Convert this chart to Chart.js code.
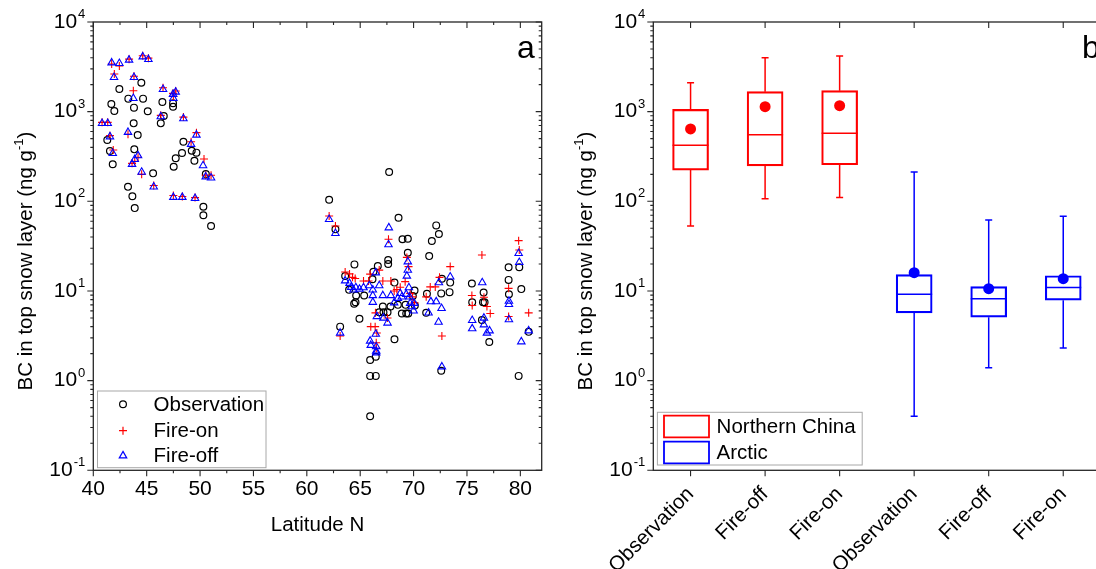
<!DOCTYPE html>
<html>
<head>
<meta charset="utf-8">
<script src="https://cdn.jsdelivr.net/npm/chart.js@4.4.1/dist/chart.umd.min.js"></script>
<style>
  html, body { margin: 0; padding: 0; background: #fff; overflow: hidden; }
  #wrap { position: relative; width: 1096px; height: 569px; overflow: hidden; }
  canvas { position: absolute; top: 0; }
  #chart-a { left: 0; }
  #chart-b { left: 560px; }
</style>
</head>
<body>
<div id="wrap">
  <canvas id="chart-a" width="560" height="569" style="width:560px;height:569px"></canvas>
  <canvas id="chart-b" width="560" height="569" style="width:560px;height:569px"></canvas>
</div>
<script>
// ---- panel a: [latitude N, BC ng/g] ----
const observation = [
  [41.69, 1217], [41.97, 1017], [42.44, 1790], [41.31, 483], [41.56, 364], [41.82, 259],
  [43.28, 1396], [43.81, 1109], [43.78, 741], [44.16, 549], [43.84, 380], [43.25, 145],
  [43.66, 114], [43.88, 84], [44.5, 2104], [44.66, 1396], [45.1, 1009], [45.6, 205],
  [46.47, 1282], [46.6, 895], [46.32, 741], [47.47, 1240], [47.47, 1136], [47.53, 243],
  [47.72, 302], [48.31, 346], [48.44, 462], [49.22, 367], [49.47, 284], [49.66, 349],
  [50.54, 202], [50.31, 87], [50.31, 70], [51.03, 53],
  [62.09, 104], [62.68, 48.7], [63.12, 4.0], [63.59, 14.7], [63.96, 10.3], [64.46, 19.8],
  [64.43, 7.2], [64.56, 7.5], [64.62, 8.9], [64.93, 4.9], [65.37, 8.9], [66.24, 16.4],
  [66.15, 13.5], [65.93, 1.7], [65.93, 1.13], [66.46, 1.13], [66.46, 1.85], [65.93, 0.4],
  [66.65, 19.0], [66.78, 5.8], [67.12, 6.7], [67.18, 5.8], [67.56, 5.8], [67.62, 22.2],
  [67.62, 20.0], [67.71, 212], [67.84, 6.7], [68.21, 12.4], [68.21, 2.9], [68.59, 65.7],
  [68.53, 7.0], [68.96, 37.7], [69.46, 38.3], [69.46, 26.7], [69.31, 5.6], [69.5, 5.6],
  [68.9, 5.6], [69.25, 7.0], [70.09, 10.1], [69.93, 8.8], [70.12, 6.9], [71.46, 24.5],
  [71.71, 36.1], [72.12, 53.9], [72.37, 43.2], [71.25, 9.3], [71.18, 5.7], [72.65, 13.7],
  [72.59, 9.4], [72.59, 1.29], [73.43, 12.4], [73.37, 9.7], [75.46, 12.1], [75.49, 7.5],
  [76.4, 4.75], [76.56, 9.6], [76.5, 7.5], [76.65, 7.5], [77.09, 2.7], [78.9, 18.4],
  [78.9, 13.3], [78.93, 9.2], [79.9, 18.4], [80.09, 10.5], [79.84, 1.13], [80.78, 3.5]
];

const fireOn = [
  [40.82, 760], [41.35, 760], [41.56, 540], [41.87, 374], [41.72, 3400], [42.44, 3230],
  [41.97, 2630], [43.35, 3850], [43.81, 2480], [43.75, 1714], [43.25, 560], [43.63, 265],
  [43.88, 280], [44.19, 310], [44.53, 200], [44.63, 4200], [45.16, 3950], [45.66, 150],
  [46.32, 910], [46.53, 1850], [47.5, 1480], [47.47, 1600], [47.72, 1700], [47.5, 116],
  [48.34, 113], [49.53, 110], [48.44, 870], [49.16, 462], [49.66, 583], [50.37, 297],
  [50.53, 195], [51.03, 195],
  [62.09, 68.6], [62.68, 53], [63.12, 3.15], [63.59, 16.3], [64.0, 15.5], [64.28, 14.2],
  [64.53, 13.8], [65.31, 12.9], [65.78, 12.9], [65.93, 15.4], [65.99, 4.0], [66.4, 4.0],
  [66.56, 3.4], [66.5, 2.65], [66.5, 2.3], [66.78, 17.1], [66.43, 5.7], [67.12, 12.9],
  [67.56, 5.0], [67.65, 37.7], [67.87, 12.9], [68.18, 10.0], [68.43, 10.4], [68.75, 11.0],
  [69.21, 12.7], [69.37, 23.7], [69.53, 18.7], [69.68, 9.4], [69.9, 8.6], [70.09, 7.4],
  [71.18, 8.6], [71.56, 11.1], [72.03, 11.1], [72.43, 14.2], [72.65, 3.15], [73.43, 18.7],
  [75.46, 8.9], [75.49, 6.9], [76.4, 25.2], [76.59, 8.5], [76.87, 6.7], [77.18, 5.6],
  [78.9, 10.7], [78.9, 5.2], [79.84, 36.4], [79.9, 28.7], [80.78, 5.7]
];

const fireOff = [
  [40.82, 741], [41.35, 741], [41.56, 526], [41.82, 343], [41.72, 3516], [42.44, 3460],
  [41.94, 2415], [43.35, 3770], [43.81, 2415], [43.75, 1409], [43.25, 589], [43.63, 259],
  [43.88, 294], [44.19, 323], [44.53, 212], [44.63, 4100], [45.16, 3837], [45.66, 145],
  [46.32, 880], [46.53, 1775], [47.5, 1409], [47.47, 1563], [47.72, 1657], [47.5, 111],
  [48.34, 111], [49.53, 108], [48.44, 836], [49.16, 433], [49.66, 549], [50.28, 250],
  [50.53, 188], [51.03, 183],
  [62.09, 63], [62.68, 44], [63.12, 3.4], [63.59, 13.0], [64.0, 12.2], [64.15, 11.0],
  [64.37, 10.3], [64.59, 10.9], [64.93, 10.5], [65.31, 10.9], [65.84, 11.5], [65.93, 2.77],
  [65.99, 2.48], [66.18, 7.5], [66.18, 8.9], [66.18, 10.3], [66.46, 3.3], [66.5, 2.4],
  [66.5, 2.14], [66.5, 2.05], [66.46, 16.0], [66.56, 5.2], [66.78, 11.5], [67.18, 5.0],
  [67.56, 4.4], [67.12, 8.9], [67.68, 50.8], [67.65, 32.9], [67.87, 8.9], [68.18, 7.4],
  [68.53, 8.3], [68.75, 9.4], [68.9, 8.6], [69.31, 9.2], [69.37, 14.7], [69.46, 17.1],
  [69.46, 21.2], [69.56, 10.9], [69.62, 8.6], [69.68, 7.3], [69.84, 6.7], [70.0, 6.0],
  [70.06, 7.3], [71.4, 5.7], [71.62, 7.6], [72.12, 7.6], [72.37, 12.4], [72.34, 4.5],
  [72.62, 6.4], [72.65, 1.43], [73.43, 14.4], [75.49, 4.7], [75.49, 3.8], [76.43, 12.4],
  [76.59, 5.0], [76.59, 4.2], [76.87, 3.4], [77.12, 3.6], [78.93, 7.7], [78.93, 7.1],
  [78.93, 4.8], [79.84, 26.3], [79.9, 20.9], [80.09, 2.72], [80.78, 3.6]
];

const latTicks = [40, 45, 50, 55, 60, 65, 70, 75, 80];

// ---- panel b: box statistics ----
const boxLabels = ["Observation", "Fire-off", "Fire-on", "Observation", "Fire-off", "Fire-on"];
const chinaPos = [1, 2, 3];
const chinaMin = [53, 107, 110];
const chinaQ1 = [223, 248, 256];
const chinaMedian = [422, 553, 573];
const chinaQ3 = [1062, 1671, 1714];
const chinaMax = [2100, 4000, 4180];
const chinaMean = [641, 1135, 1166];
const arcticPos = [4, 5, 6];
const arcticMin = [0.4, 1.39, 2.31];
const arcticQ1 = [5.7, 5.1, 7.9];
const arcticMedian = [9.2, 8.2, 10.9];
const arcticQ3 = [15.2, 11.2, 14.8];
const arcticMax = [212, 62, 68];
const arcticMean = [16.0, 10.6, 13.7];

const FONT = '"Liberation Sans", Arial, sans-serif';
const AXIS_COLOR = "#262626";
const RED = "#ff0000";
const BLUE = "#0000ff";

function toPoints(rows) {
  return rows.map(([x, y]) => ({ x, y }));
}

function drawPower(ctx, x, y, exp, size) {
  const sup = String(exp);
  ctx.font = `${size}px ${FONT}`;
  const wb = ctx.measureText("10").width;
  ctx.font = `${size * 0.62}px ${FONT}`;
  const ws = ctx.measureText(sup).width;
  ctx.textAlign = "left";
  ctx.textBaseline = "middle";
  ctx.font = `${size}px ${FONT}`;
  ctx.fillText("10", x - ws - wb - 1, y);
  ctx.font = `${size * 0.62}px ${FONT}`;
  ctx.fillText(sup, x - ws, y - size * 0.36);
}

// frame, tick marks, log labels, y title and panel letter
const framePlugin = {
  id: "frame",
  afterDraw(chart, args, opts) {
    const { ctx, chartArea: a, scales } = chart;
    const xs = scales.x;
    const ys = scales.y;
    ctx.save();
    ctx.strokeStyle = AXIS_COLOR;
    ctx.lineWidth = 1.3;
    ctx.strokeRect(a.left, a.top, a.right - a.left, a.bottom - a.top);

    ctx.lineWidth = 1.1;
    ctx.beginPath();
    for (let e = -1; e <= 4; e++) {
      for (let k = 1; k <= 9; k++) {
        const v = k * Math.pow(10, e);
        if (v > 10000.001) break;
        const py = ys.getPixelForValue(v);
        const len = k === 1 ? 6 : 3;
        ctx.moveTo(a.left - len, py);
        ctx.lineTo(a.left, py);
        if (opts.mirrorY) {
          ctx.moveTo(a.right, py);
          ctx.lineTo(a.right - len, py);
        }
      }
    }
    opts.xTicks.forEach((t) => {
      const px = xs.getPixelForValue(t.v);
      const len = t.major ? 6 : 3;
      ctx.moveTo(px, a.bottom);
      ctx.lineTo(px, a.bottom + len);
      ctx.moveTo(px, a.top);
      ctx.lineTo(px, a.top + len);
    });
    ctx.stroke();

    ctx.fillStyle = "#000";
    for (let e = -1; e <= 4; e++) {
      drawPower(ctx, a.left - 8, ys.getPixelForValue(Math.pow(10, e)), e, 21);
    }

    // y title with superscript
    const main = "BC in top snow layer (ng g";
    const sup = "-1";
    const close = ")";
    ctx.font = `20.5px ${FONT}`;
    const w1 = ctx.measureText(main).width;
    const w3 = ctx.measureText(close).width;
    ctx.font = `13px ${FONT}`;
    const w2 = ctx.measureText(sup).width;
    const total = w1 + w2 + w3;
    ctx.translate(opts.titleX, a.top + 239);
    ctx.rotate(-Math.PI / 2);
    ctx.textAlign = "left";
    ctx.textBaseline = "middle";
    ctx.font = `20.5px ${FONT}`;
    ctx.fillText(main, -total / 2, 0);
    ctx.font = `13px ${FONT}`;
    ctx.fillText(sup, -total / 2 + w1, -7);
    ctx.font = `20.5px ${FONT}`;
    ctx.fillText(close, -total / 2 + w1 + w2, 0);
    ctx.setTransform(1, 0, 0, 1, 0, 0);

    ctx.font = `32px ${FONT}`;
    ctx.textAlign = "left";
    ctx.textBaseline = "alphabetic";
    ctx.fillText(opts.letter, opts.letterX, 58);
    ctx.restore();
  }
};

// legend drawn inside the plot area
const legendPlugin = {
  id: "boxLegend",
  afterDraw(chart, args, opts) {
    const { ctx, chartArea: a } = chart;
    ctx.save();
    const bx = a.left + opts.box[0];
    const by = a.bottom - opts.box[1];
    ctx.fillStyle = "#fff";
    ctx.fillRect(bx, by, opts.box[2], opts.box[3]);
    ctx.strokeStyle = "#a8a8a8";
    ctx.lineWidth = 1;
    ctx.strokeRect(bx, by, opts.box[2], opts.box[3]);
    ctx.font = `20.5px ${FONT}`;
    ctx.textBaseline = "middle";
    ctx.textAlign = "left";
    opts.items.forEach((it, i) => {
      const cy = a.bottom - opts.rows[i];
      const sx = a.left + opts.symbolX;
      ctx.strokeStyle = it.color;
      ctx.lineWidth = it.lineWidth || 1.2;
      ctx.beginPath();
      if (it.style === "circle") {
        ctx.arc(sx, cy, 3.4, 0, Math.PI * 2);
      } else if (it.style === "cross") {
        ctx.moveTo(sx - 4, cy); ctx.lineTo(sx + 4, cy);
        ctx.moveTo(sx, cy - 4); ctx.lineTo(sx, cy + 4);
      } else if (it.style === "triangle") {
        const r = 4.3;
        ctx.moveTo(sx, cy - r);
        ctx.lineTo(sx + r * 0.866, cy + r * 0.5);
        ctx.lineTo(sx - r * 0.866, cy + r * 0.5);
        ctx.closePath();
      } else if (it.style === "rect") {
        ctx.rect(sx - 22.5, cy - 10.8, 45, 21.6);
      }
      ctx.stroke();
      ctx.fillStyle = "#000";
      ctx.fillText(it.label, a.left + opts.textX, cy + 1);
    });
    ctx.restore();
  }
};

function fixedWidth(w) {
  return (scale) => { scale.width = w; };
}
function fixedHeight(h) {
  return (scale) => { scale.height = h; };
}

const logAxis = {
  type: "logarithmic",
  min: 0.1,
  max: 10000,
  beginAtZero: false,
  grid: { display: false, drawTicks: false },
  border: { display: false },
  ticks: { display: false },
  afterFit: fixedWidth(93.3)
};

function mountA() {
  const ctx = document.getElementById("chart-a").getContext("2d");
  const xTicks = [];
  for (let v = 40; v <= 80; v += 2.5) xTicks.push({ v, major: v % 5 === 0 });

  return new Chart(ctx, {
    type: "scatter",
    data: {
      datasets: [
        {
          label: "Observation",
          data: toPoints(observation),
          pointStyle: "circle",
          radius: 3.4,
          borderColor: "#000",
          backgroundColor: "rgba(0,0,0,0)",
          borderWidth: 1.2,
          order: 3
        },
        {
          label: "Fire-on",
          data: toPoints(fireOn),
          pointStyle: "cross",
          radius: 4,
          borderColor: RED,
          backgroundColor: RED,
          borderWidth: 1.1,
          order: 2
        },
        {
          label: "Fire-off",
          data: toPoints(fireOff),
          pointStyle: "triangle",
          radius: 4.3,
          borderColor: BLUE,
          backgroundColor: "rgba(0,0,0,0)",
          borderWidth: 1.1,
          order: 1
        }
      ]
    },
    options: {
      responsive: false,
      animation: false,
      events: [],
      layout: { padding: { top: 22, right: 18.3, left: 0, bottom: 0 } },
      plugins: {
        legend: { display: false },
        tooltip: { enabled: false },
        frame: { xTicks, mirrorY: true, titleX: 26, letter: "a", letterX: 517 },
        boxLegend: {
          box: [4.2, 79.3, 168.5, 76.7],
          symbolX: 29.7,
          textX: 60.3,
          rows: [66, 39.6, 14.6],
          items: [
            { label: "Observation", style: "circle", color: "#000" },
            { label: "Fire-on", style: "cross", color: RED },
            { label: "Fire-off", style: "triangle", color: BLUE }
          ]
        }
      },
      scales: {
        x: {
          type: "linear",
          min: 40,
          max: 82,
          afterBuildTicks: (s) => { s.ticks = latTicks.map((v) => ({ value: v })); },
          grid: { display: false, drawTicks: false },
          border: { display: false },
          ticks: { color: "#000", font: { family: FONT, size: 21 }, padding: 6 },
          title: {
            display: true,
            text: "Latitude N",
            color: "#000",
            font: { family: FONT, size: 20.5 },
            padding: { top: 0, bottom: 31 }
          },
          afterFit: fixedHeight(98.7)
        },
        y: logAxis
      }
    },
    plugins: [framePlugin, legendPlugin]
  });
}

function boxDatasets(label, color, pos, min, q1, med, q3, max, mean) {
  const whisker = [];
  pos.forEach((x, i) => {
    whisker.push({ x, y: min[i] }, { x, y: q1[i] }, { x, y: null });
    whisker.push({ x, y: q3[i] }, { x, y: max[i] }, { x, y: null });
  });
  return [
    {
      type: "bar",
      label,
      data: pos.map((x, i) => ({ x, y: [q1[i], q3[i]] })),
      backgroundColor: "rgba(0,0,0,0)",
      borderColor: color,
      borderWidth: 1.5,
      borderSkipped: false,
      barThickness: 36,
      grouped: false
    },
    {
      type: "line",
      label: label + " whisker",
      data: whisker,
      borderColor: color,
      borderWidth: 1.5,
      pointRadius: 0,
      spanGaps: false
    },
    {
      type: "scatter",
      label: label + " cap",
      data: pos.flatMap((x, i) => [{ x, y: min[i] }, { x, y: max[i] }]),
      pointStyle: "line",
      radius: 3.5,
      borderColor: color,
      borderWidth: 1.5
    },
    {
      type: "scatter",
      label: label + " median",
      data: pos.map((x, i) => ({ x, y: med[i] })),
      pointStyle: "line",
      radius: 18,
      borderColor: color,
      borderWidth: 1.5
    },
    {
      type: "scatter",
      label: label + " mean",
      data: pos.map((x, i) => ({ x, y: mean[i] })),
      pointStyle: "circle",
      radius: 5.5,
      borderWidth: 0,
      backgroundColor: color,
      borderColor: color
    }
  ];
}

function mountB() {
  const ctx = document.getElementById("chart-b").getContext("2d");
  const xTicks = boxLabels.map((_, i) => ({ v: i + 1, major: true }));

  return new Chart(ctx, {
    type: "scatter",
    data: {
      datasets: [
        ...boxDatasets("Northern China", RED, chinaPos, chinaMin, chinaQ1, chinaMedian, chinaQ3, chinaMax, chinaMean),
        ...boxDatasets("Arctic", BLUE, arcticPos, arcticMin, arcticQ1, arcticMedian, arcticQ3, arcticMax, arcticMean)
      ]
    },
    options: {
      responsive: false,
      animation: false,
      events: [],
      layout: { padding: { top: 22, right: 17.3, left: 0, bottom: 0 } },
      plugins: {
        legend: { display: false },
        tooltip: { enabled: false },
        frame: { xTicks, mirrorY: false, titleX: 26, letter: "b", letterX: 522 },
        boxLegend: {
          box: [4.1, 58, 204.8, 52.7],
          symbolX: 33.2,
          textX: 63.3,
          rows: [43.8, 17.8],
          items: [
            { label: "Northern China", style: "rect", color: RED, lineWidth: 1.8 },
            { label: "Arctic", style: "rect", color: BLUE, lineWidth: 1.8 }
          ]
        }
      },
      scales: {
        x: {
          type: "linear",
          min: 0.5,
          max: 6.5,
          offset: false,
          afterBuildTicks: (s) => { s.ticks = boxLabels.map((_, i) => ({ value: i + 1 })); },
          grid: { display: false, drawTicks: false, offset: false },
          border: { display: false },
          ticks: {
            color: "#000",
            font: { family: FONT, size: 20.5 },
            padding: 12,
            autoSkip: false,
            minRotation: 45,
            maxRotation: 45,
            callback: (value, index) => boxLabels[index]
          },
          afterFit: fixedHeight(98.7)
        },
        y: logAxis
      }
    },
    plugins: [framePlugin, legendPlugin]
  });
}

mountA();
mountB();
</script>
</body>
</html>
